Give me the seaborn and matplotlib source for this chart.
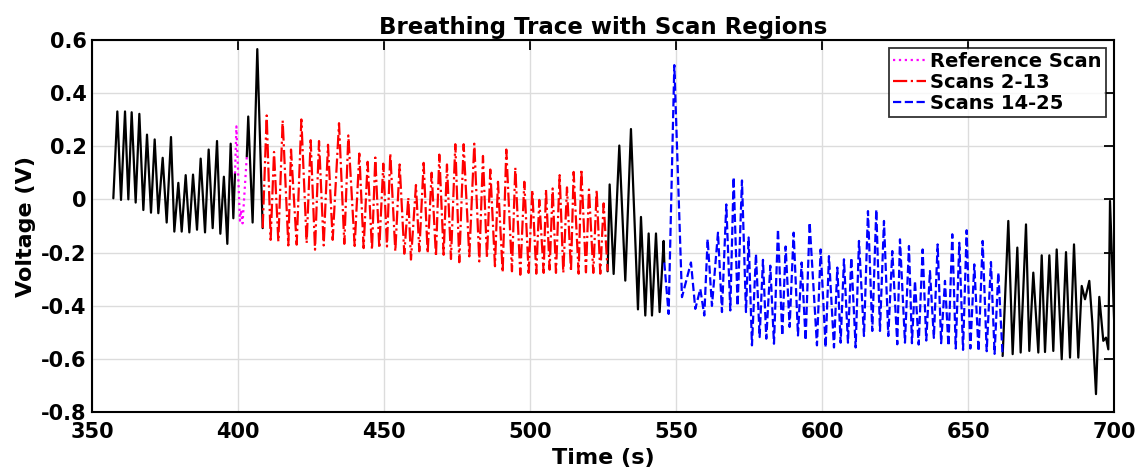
import numpy as np
import pandas as pd
import matplotlib
matplotlib.use("Agg")
import matplotlib.pyplot as plt
import seaborn as sns

# ---------------- data (turning points) ----------------
pre_t = [357.20, 358.57, 359.83, 361.20, 362.34, 363.48, 364.85, 366.11, 367.48, 368.73,
         370.10, 371.36, 372.61, 374.10, 375.47, 376.95, 378.09, 379.46, 380.61, 381.98,
         383.23, 384.49, 385.86, 387.11, 388.60, 389.85, 391.22, 392.71, 393.85, 395.06,
         396.24, 397.39, 398.30, 398.87]
pre_v = [0.004, 0.330, -0.002, 0.330, 0.0, 0.327, -0.012, 0.321, -0.040, 0.243,
         -0.050, 0.225, -0.052, 0.156, -0.087, 0.234, -0.121, 0.062, -0.121, 0.091,
         -0.124, 0.093, -0.114, 0.153, -0.124, 0.187, -0.108, 0.219, -0.129, 0.085,
         -0.167, 0.209, -0.071, 0.097]

ref_t = [398.87, 399.35, 400.55, 400.95, 401.45, 402.90]
ref_v = [0.097, 0.274, -0.080, -0.040, -0.090, 0.160]

gap1_t = [402.90, 403.40, 404.90, 406.50, 408.35]
gap1_v = [0.160, 0.311, -0.087, 0.564, -0.108]

scan2_t = [408.35, 409.72, 411.08, 412.23, 413.71, 415.19, 417.13, 418.05, 419.99, 421.59,
           423.41, 424.78, 426.27, 427.64, 429.24, 430.72, 432.32, 434.49, 436.31, 437.68,
           439.85, 441.44, 442.92, 444.29, 445.78, 446.92, 448.29, 449.66, 450.91, 452.05,
           453.77, 455.25, 456.85, 458.22, 459.13, 460.84, 461.99, 463.47, 464.84, 466.21,
           467.69, 468.84, 470.32, 471.46, 472.83, 474.32, 475.68, 477.17, 479.11, 480.82,
           482.53, 483.79, 485.16, 486.30, 487.90, 488.93, 490.53, 491.78, 493.72, 494.86,
           496.58, 497.95, 499.43, 500.68, 502.05, 503.08, 504.57, 505.37, 506.62, 507.65,
           508.79, 510.05, 511.30, 512.56, 513.93, 514.84, 516.55, 517.47, 519.06, 520.09,
           521.58, 522.72, 523.97, 525.11, 526.48]
scan2_v = [-0.108, 0.315, -0.152, 0.178, -0.158, 0.296, -0.173, 0.187, -0.170, 0.300,
           -0.164, 0.222, -0.189, 0.219, -0.173, 0.205, -0.152, 0.286, -0.167, 0.240,
           -0.175, 0.172, -0.183, 0.141, -0.189, 0.157, -0.183, 0.134, -0.177, 0.172,
           -0.195, 0.131, -0.204, 0.006, -0.226, 0.054, -0.195, 0.137, -0.202, 0.100,
           -0.214, 0.168, -0.208, 0.131, -0.224, 0.207, -0.236, 0.207, -0.214, 0.209,
           -0.233, 0.163, -0.220, 0.112, -0.251, 0.066, -0.274, 0.187, -0.270, 0.119,
           -0.283, 0.066, -0.276, 0.035, -0.279, -0.002, -0.276, 0.037, -0.264, 0.041,
           -0.276, 0.091, -0.276, 0.045, -0.270, 0.103, -0.279, 0.113, -0.274, 0.037,
           -0.276, 0.035, -0.279, -0.015, -0.270]

gap2_t = [526.48, 527.17, 528.54, 530.48, 532.53, 534.47, 536.87, 537.90, 539.38, 540.53,
          541.67, 543.04, 544.29, 545.66, 545.89]
gap2_v = [-0.270, 0.056, -0.280, 0.202, -0.305, 0.264, -0.413, -0.066, -0.436, -0.128,
          -0.436, -0.128, -0.423, -0.156, -0.237]

scan14_t = [545.89, 547.37, 549.32, 551.94, 555.02, 556.51, 558.22, 559.59, 560.73, 562.21,
            564.27, 565.64, 567.12, 568.49, 569.63, 571.00, 572.49, 573.86, 574.77, 575.91,
            577.28, 578.54, 579.68, 580.82, 582.19, 583.45, 584.82, 586.30, 587.44, 588.81,
            590.18, 591.67, 592.92, 594.29, 595.66, 598.17, 599.43, 601.14, 602.28, 604.00,
            605.14, 606.28, 607.42, 608.79, 609.93, 611.42, 612.56, 614.27, 615.64, 617.12,
            618.49, 619.75, 621.12, 622.60, 623.97, 625.68, 626.60, 628.31, 629.68, 630.70,
            631.74, 633.00, 634.36, 635.60, 636.87, 638.20, 639.50, 640.70, 642.01, 643.20,
            644.52, 645.70, 646.92, 648.20, 649.43, 650.70, 652.05, 653.50, 654.91, 656.30,
            657.76, 659.00, 660.27, 661.76]
scan14_v = [-0.237, -0.430, 0.504, -0.367, -0.237, -0.411, -0.336, -0.436, -0.149, -0.400,
            -0.125, -0.423, -0.019, -0.417, 0.083, -0.400, 0.071, -0.423, -0.143, -0.548,
            -0.205, -0.517, -0.227, -0.523, -0.249, -0.542, -0.112, -0.511, -0.177, -0.479,
            -0.125, -0.511, -0.237, -0.529, -0.087, -0.548, -0.188, -0.556, -0.213, -0.556,
            -0.256, -0.538, -0.225, -0.538, -0.219, -0.556, -0.156, -0.513, -0.044, -0.494,
            -0.038, -0.494, -0.081, -0.513, -0.194, -0.544, -0.150, -0.538, -0.175, -0.540,
            -0.306, -0.545, -0.188, -0.530, -0.269, -0.520, -0.169, -0.540, -0.306, -0.550,
            -0.131, -0.560, -0.163, -0.565, -0.116, -0.560, -0.244, -0.570, -0.156, -0.570,
            -0.235, -0.580, -0.275, -0.588]

post_t = [661.76, 663.70, 665.19, 666.79, 667.93, 669.76, 670.89, 672.26, 673.98, 675.14,
          676.27, 677.75, 679.11, 680.27, 681.99, 683.46, 684.83, 686.20, 687.67, 688.84,
          689.97, 691.44, 692.47, 693.73, 694.86, 696.23, 697.16, 697.95, 698.53, 700.00]
post_v = [-0.588, -0.081, -0.581, -0.181, -0.575, -0.094, -0.569, -0.275, -0.575, -0.210,
          -0.573, -0.210, -0.569, -0.188, -0.600, -0.198, -0.594, -0.169, -0.594, -0.325,
          -0.375, -0.306, -0.463, -0.731, -0.366, -0.531, -0.519, -0.563, -0.006, -0.475]

x_ticks = [350, 400, 450, 500, 550, 600, 650, 700]
y_ticks = [-0.8, -0.6, -0.4, -0.2, 0, 0.2, 0.4, 0.6]
y_tick_labels = ["-0.8", "-0.6", "-0.4", "-0.2", "0", "0.2", "0.4", "0.6"]

# ---------------- plotting ----------------
sns.set_style("white")
plt.rcParams["font.family"] = ["DejaVu Sans"]
plt.rcParams["font.weight"] = "bold"
plt.rcParams["axes.unicode_minus"] = False
plt.rcParams["text.color"] = "black"
plt.rcParams["axes.labelcolor"] = "black"
plt.rcParams["xtick.color"] = "black"
plt.rcParams["ytick.color"] = "black"

fig = plt.figure(figsize=(11.41, 4.75), dpi=100)
ax = fig.add_axes([0.0809, 0.1316, 0.8957, 0.7852])

def seg(t, v):
    return pd.DataFrame({"t": t, "v": v})

black_kw = dict(color="black", linewidth=1.6, linestyle="-")
for t, v in [(pre_t, pre_v), (gap1_t, gap1_v), (gap2_t, gap2_v), (post_t, post_v)]:
    sns.lineplot(data=seg(t, v), x="t", y="v", ax=ax, sort=False, estimator=None, **black_kw)

h_ref = sns.lineplot(data=seg(ref_t, ref_v), x="t", y="v", ax=ax, sort=False, estimator=None,
                     color="#ff00ff", linewidth=1.6, linestyle=":").lines[-1]
h_s2 = sns.lineplot(data=seg(scan2_t, scan2_v), x="t", y="v", ax=ax, sort=False, estimator=None,
                    color="#ff0000", linewidth=1.6, linestyle="-.").lines[-1]
h_s14 = sns.lineplot(data=seg(scan14_t, scan14_v), x="t", y="v", ax=ax, sort=False, estimator=None,
                     color="#0000ff", linewidth=1.6, linestyle="--").lines[-1]

ax.set_xlim(350, 700)
ax.set_ylim(-0.8, 0.6)
ax.set_xticks(x_ticks)
ax.set_yticks(y_ticks)
ax.set_yticklabels(y_tick_labels)
ax.grid(True, color="#dcdcdc", linewidth=1.0)
ax.set_axisbelow(True)
for sp in ax.spines.values():
    sp.set_color("black")
    sp.set_linewidth(1.5)
ax.tick_params(axis="both", direction="in", length=7, width=1.3, top=True, right=True,
               labelsize=15, colors="black", labelcolor="black")
ax.tick_params(axis="x", pad=7)
ax.tick_params(axis="y", pad=4)
for lab in ax.get_xticklabels() + ax.get_yticklabels():
    lab.set_fontweight("bold")

ax.set_xlabel("Time (s)", fontsize=16, fontweight="bold", labelpad=4, color="black")
ax.set_ylabel("Voltage (V)", fontsize=16, fontweight="bold", labelpad=4, color="black")
ax.set_title("Breathing Trace with Scan Regions", fontsize=16.5, fontweight="bold",
             pad=4, color="black")

leg = ax.legend([h_ref, h_s2, h_s14], ["Reference Scan", "Scans 2-13", "Scans 14-25"],
                loc="upper right", fontsize=14, frameon=True, fancybox=False,
                handlelength=1.7, handletextpad=0.2, borderpad=0.2, labelspacing=0.1,
                borderaxespad=0.45)
leg.get_frame().set_edgecolor("black")
leg.get_frame().set_linewidth(1.3)
for txt in leg.get_texts():
    txt.set_fontweight("bold")
    txt.set_color("black")

fig.savefig("out.png", dpi=100)
